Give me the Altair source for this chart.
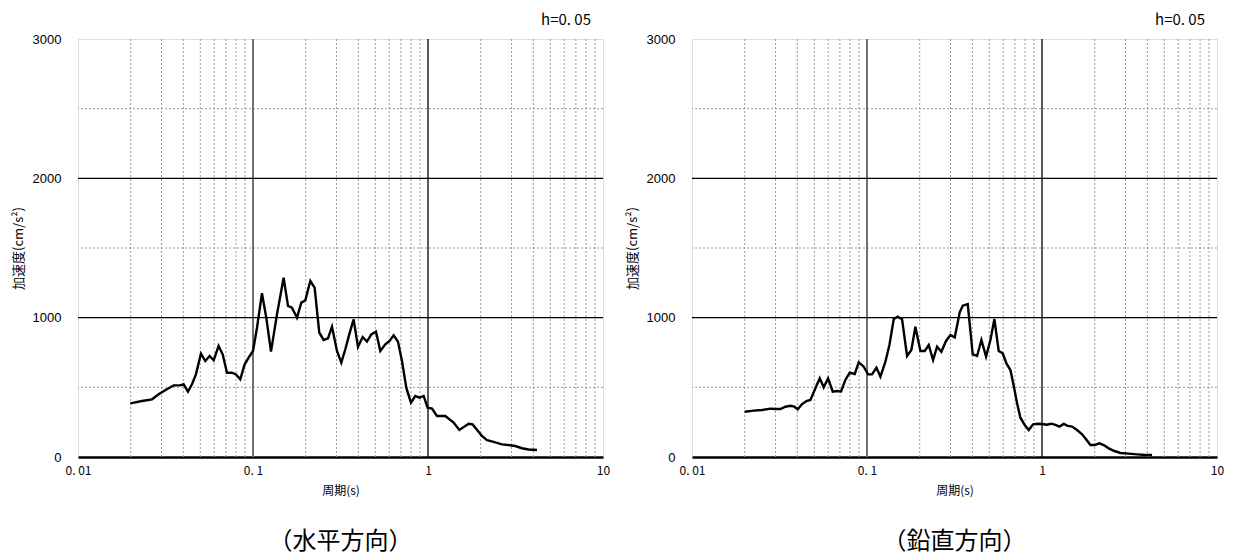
import altair as alt
import pandas as pd

# ---- data ----
h_period = [0.0199, 0.0232, 0.0265, 0.0289, 0.0322, 0.0352, 0.0384, 0.0401, 0.0425, 0.0448,
            0.0472, 0.0504, 0.0534, 0.0565, 0.0596, 0.0636, 0.0671, 0.0710, 0.0758, 0.0799,
            0.0846, 0.0896, 0.0944, 0.1000, 0.1054, 0.1125, 0.1191, 0.1267, 0.1371, 0.1496,
            0.1585, 0.167, 0.1784, 0.1888, 0.199, 0.2126, 0.225, 0.2392, 0.2533, 0.2682,
            0.2827, 0.3019, 0.3196, 0.3369,
            0.3549, 0.3758, 0.398, 0.4231, 0.448, 0.4743, 0.5043, 0.5339, 0.5702, 0.6035,
            0.6362, 0.6736, 0.71, 0.7516, 0.799, 0.8461, 0.892, 0.9441, 0.995, 1.054,
            1.125, 1.256, 1.401, 1.51, 1.707, 1.799, 2.034, 2.173, 2.371, 2.647,
            3.154, 3.44, 3.758, 4.195]
h_accel = [385, 402, 414, 450, 486, 514, 514, 522, 469, 522,
           593, 742, 689, 725, 694, 797, 737, 605, 605, 593,
           557, 665, 713, 761, 928, 1175, 1000, 756, 1024, 1287,
           1084, 1072, 1000, 1108, 1124, 1263, 1215, 892, 840, 852,
           935, 761, 677, 773,
           880, 988, 790, 861, 828, 880, 900, 761, 809, 833,
           873, 828, 689, 498, 390, 438, 426, 438, 354, 347,
           294, 294, 247, 194, 239, 234, 151, 120, 108, 91,
           79, 63, 54, 50]

v_period = [0.0200, 0.02253, 0.02514, 0.02805, 0.02995, 0.0320, 0.03418, 0.0365, 0.03847, 0.0402,
            0.04256, 0.04506, 0.0475, 0.05072, 0.0537, 0.05659, 0.05992, 0.06371, 0.06745, 0.07108,
            0.07525, 0.07965, 0.0851, 0.0897, 0.09579, 0.1014, 0.1069, 0.1132, 0.1193, 0.1274,
            0.1343, 0.1422, 0.1498, 0.1586, 0.1694, 0.1793, 0.189, 0.2019, 0.2138, 0.2253,
            0.2386, 0.2514, 0.2661, 0.283, 0.2997, 0.3172, 0.3388,
            0.3524, 0.3764, 0.402, 0.4256, 0.4506, 0.4791, 0.5072, 0.5346, 0.5656, 0.5964,
            0.6261, 0.6599, 0.6895, 0.7204, 0.7527, 0.7967, 0.84, 0.8892, 0.9454, 1.0,
            1.069, 1.132, 1.193, 1.258, 1.331, 1.403, 1.485, 1.586, 1.694, 1.786,
            1.891, 2.001, 2.128, 2.253, 2.406, 2.593, 2.806, 3.13, 3.494, 3.899, 4.256]
v_accel = [325, 333, 337, 347, 344, 344, 361, 368, 361, 342,
           380, 402, 409, 493, 565, 500, 565, 469, 474, 471,
           553, 605, 596, 679, 648, 593, 593, 641, 577, 684,
           804, 990, 1007, 988, 725, 768, 935, 761, 761, 804,
           696, 792, 756, 833, 876, 859, 1038,
           1086, 1098, 737, 725, 840, 720, 840, 990, 761, 744,
           672, 624, 512, 385, 282, 230, 194, 235, 239, 237,
           232, 239, 230, 218, 237, 223, 218, 194, 163, 127,
           86, 86, 98, 86, 62, 43, 29, 24, 19, 14, 14]

x_ticks = [0.01, 0.1, 1, 10]
x_tick_labels = ["0. 01", "0. 1", "1", "10"]
y_ticks = [0, 1000, 2000, 3000]
minor_x = [0.02, 0.03, 0.04, 0.05, 0.06, 0.07, 0.08, 0.09,
           0.2, 0.3, 0.4, 0.5, 0.6, 0.7, 0.8, 0.9,
           2, 3, 4, 5, 6, 7, 8, 9]
minor_y = [500, 1500, 2500]
major_x_a = [0.1]
major_x_b = [1]
major_y = [1000, 2000]
damping_label = "h=0. 05"
x_title = "周期(s)"
y_title = "加速度(cm/s²)"
captions = ["（水平方向）", "（鉛直方向）"]

# ---- chart ----
W, H = 525, 418
JP = "Noto Sans CJK JP"
NUM = "Liberation Sans"

label_expr = ""
for v, lab in zip(x_ticks[:-1], x_tick_labels[:-1]):
    label_expr += f"datum.value < {v * 3} ? '{lab}' : "
label_expr += f"'{x_tick_labels[-1]}'"

xs = alt.Scale(type="log", domain=[x_ticks[0], x_ticks[-1]], nice=False)
ys = alt.Scale(domain=[y_ticks[0], y_ticks[-1]], nice=False)

x_axis = alt.Axis(values=x_ticks, labelExpr=label_expr, title=x_title, grid=False,
                  ticks=False, domain=True, domainColor="black", domainWidth=2.5,
                  labelFont=JP, labelFontSize=12, labelColor="black", labelPadding=8,
                  titleFont=JP, titleFontSize=12, titleFontWeight="normal",
                  titleColor="black", titlePadding=9, labelFlush=False)
y_axis = alt.Axis(values=y_ticks, format="d", title=y_title, grid=False, ticks=False,
                  domain=False, labelFont=NUM, labelFontSize=13, labelColor="black",
                  labelPadding=17, titleFont=JP, titleFontSize=13, titleFontWeight="normal",
                  titleColor="black", titlePadding=7)

X = alt.X("T:Q", scale=xs, axis=x_axis)
Y = alt.Y("A:Q", scale=ys, axis=y_axis)


def panel(period, accel, caption):
    base_line = pd.DataFrame({"T": period, "A": accel})
    minor_v = alt.Chart(pd.DataFrame({"T": minor_x})).mark_rule(
        color="#9a9a9a", strokeDash=[2, 2], strokeWidth=1).encode(x=X)
    minor_h = alt.Chart(pd.DataFrame({"A": minor_y})).mark_rule(
        color="#9a9a9a", strokeDash=[2, 2], strokeWidth=1).encode(y=Y)
    major_va = alt.Chart(pd.DataFrame({"T": major_x_a})).mark_rule(
        color="#707070", strokeWidth=2).encode(x=X)
    major_vb = alt.Chart(pd.DataFrame({"T": major_x_b})).mark_rule(
        color="black", strokeWidth=1.3).encode(x=X)
    major_h = alt.Chart(pd.DataFrame({"A": major_y})).mark_rule(
        color="black", strokeWidth=1.3).encode(y=Y)
    line = alt.Chart(base_line).mark_line(color="black", strokeWidth=2.4).encode(x=X, y=Y)
    hlab = alt.Chart(pd.DataFrame({"t": [damping_label]})).mark_text(
        align="right", baseline="middle", font=JP, fontSize=15, color="black"
    ).encode(text="t:N", x=alt.value(W - 12), y=alt.value(-19))
    return alt.layer(minor_v, minor_h, major_va, major_vb, major_h, line, hlab).properties(
        width=W, height=H,
        title=alt.TitleParams(caption, orient="bottom", font=JP, fontSize=24,
                              fontWeight="normal", color="black", offset=34, anchor="middle"))


chart = alt.hconcat(
    panel(h_period, h_accel, captions[0]),
    panel(v_period, v_accel, captions[1]),
    spacing=14,
).properties(
    padding={"left": 3, "top": 4, "right": 0, "bottom": 0}
).configure_view(stroke="black", strokeWidth=2).configure(background="white")

chart.save("out.html", embed_options={"renderer": "svg", "actions": False})
